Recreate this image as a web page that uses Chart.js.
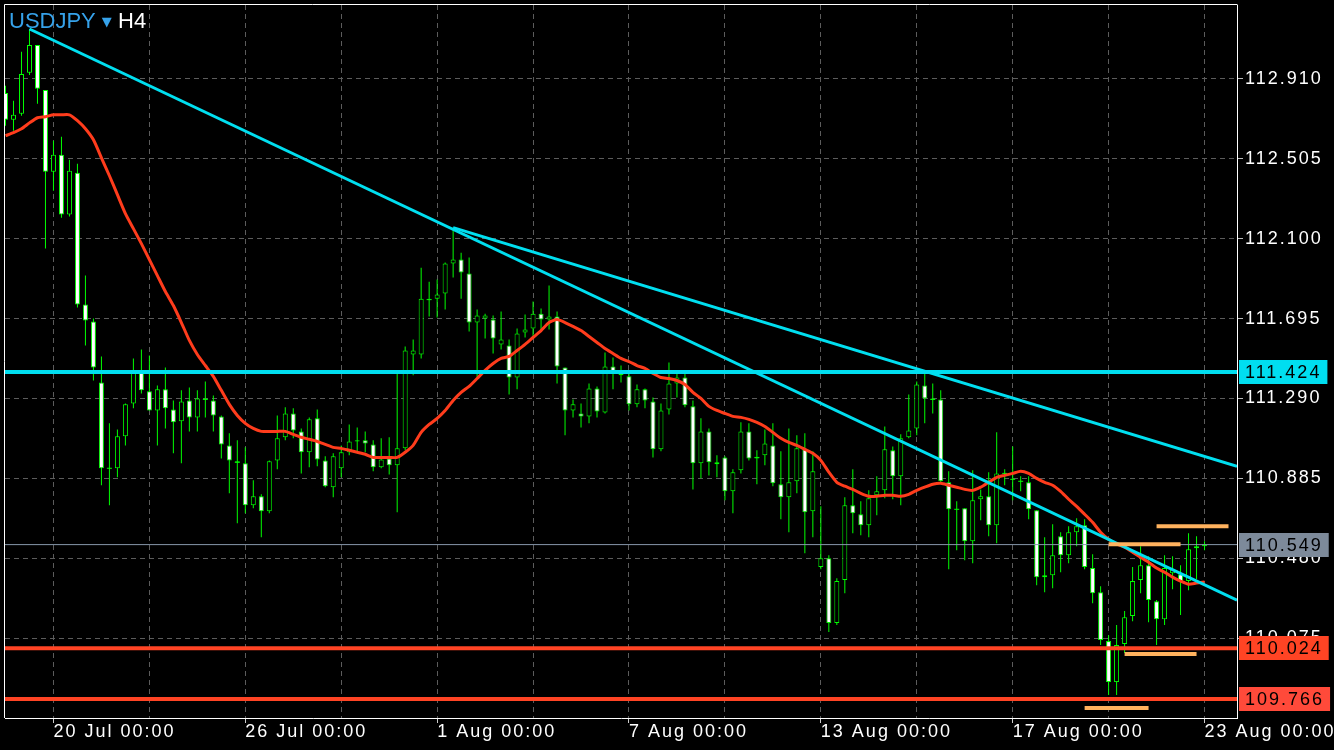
<!DOCTYPE html>
<html>
<head>
<meta charset="utf-8">
<script src="https://cdn.jsdelivr.net/npm/chart.js@4.4.1/dist/chart.umd.min.js"></script>
<style>
html,body{margin:0;padding:0;background:#000;overflow:hidden;}
#wrap{width:1334px;height:750px;position:relative;background:#000;}
canvas{display:block;}
</style>
</head>
<body>
<div id="wrap"><canvas id="c" width="1334" height="750"></canvas></div>
<script>
// ---------- data (USDJPY, H4 candles, index 0 = 19 Jul 00:00) ----------
const symbol = 'USDJPY';
const timeframe = 'H4';
const tickIdx = [6, 30, 54, 78, 102, 126, 150];
const tickLabels = ['20 Jul 00:00', '26 Jul 00:00', '1 Aug 00:00', '7 Aug 00:00', '13 Aug 00:00', '17 Aug 00:00', '23 Aug 00:00'];
const gridIdx = [6, 18, 30, 42, 54, 66, 78, 90, 102, 114, 126, 138, 150];
const yTicks = [112.910, 112.505, 112.100, 111.695, 111.290, 110.885, 110.480, 110.075];

const open = [112.839,112.703,112.733,112.941,113.082,112.854,112.439,112.525,112.222,112.434,
111.766,111.680,111.371,110.936,110.936,111.098,111.265,111.432,111.326,111.229,
111.336,111.234,111.174,111.280,111.194,111.290,111.280,111.199,111.052,110.971,
110.961,110.748,110.794,110.718,110.976,111.093,111.214,111.123,111.017,111.189,
110.976,110.840,110.936,111.017,111.072,111.078,111.057,110.941,110.986,110.951,
111.037,111.513,111.513,111.796,111.796,111.822,111.974,111.994,111.923,111.675,
111.695,111.690,111.564,111.558,111.396,111.624,111.645,111.720,111.690,111.705,
111.447,111.229,111.214,111.199,111.341,111.219,111.452,111.417,111.402,111.260,
111.336,111.275,111.032,111.234,111.366,111.396,111.250,110.961,111.123,110.966,
110.991,110.819,110.926,111.123,110.986,111.002,111.052,110.855,110.789,110.870,
111.032,110.718,110.435,110.480,110.151,110.369,110.748,110.703,110.647,110.799,
110.824,111.027,110.895,111.093,111.138,111.356,111.290,111.285,110.865,110.728,
110.733,110.566,110.779,110.794,110.647,110.910,110.880,110.870,110.865,110.723,
110.384,110.394,110.592,110.495,110.612,110.647,110.430,110.308,110.060,109.852,
110.045,110.187,110.369,110.445,110.262,110.171,110.404,110.399,110.364,110.531,
110.541];
const high = [112.875,112.799,113.047,113.163,113.082,112.854,112.596,112.617,112.500,112.480,
111.913,111.695,111.503,111.164,111.133,111.265,111.493,111.538,111.508,111.356,
111.447,111.280,111.331,111.346,111.331,111.376,111.305,111.204,111.113,111.078,
111.042,110.875,110.804,110.976,111.204,111.245,111.240,111.138,111.194,111.234,
110.997,111.012,111.052,111.158,111.143,111.123,111.078,111.088,111.093,111.432,
111.553,111.589,111.953,111.882,111.893,111.979,112.156,112.029,112.004,111.741,
111.720,111.710,111.731,111.589,111.645,111.715,111.781,111.746,111.862,111.731,
111.447,111.285,111.265,111.366,111.351,111.523,111.498,111.457,111.422,111.361,
111.341,111.295,111.265,111.472,111.422,111.417,111.280,111.189,111.138,111.002,
110.997,110.931,111.169,111.164,111.027,111.133,111.164,111.022,111.138,111.103,
111.113,111.022,110.743,110.495,110.379,110.789,110.931,110.769,110.824,110.895,
111.148,111.047,111.108,111.310,111.376,111.417,111.366,111.331,110.921,110.769,
110.733,110.926,110.829,110.916,111.118,110.931,111.047,110.895,110.895,110.723,
110.586,110.652,110.612,110.642,110.683,110.678,110.500,110.338,110.090,110.141,
110.212,110.435,110.541,110.490,110.268,110.495,110.490,110.445,110.607,110.592,
110.566];
const low = [112.672,112.647,112.723,112.930,112.784,112.050,112.343,112.206,112.212,111.751,
111.558,111.381,110.850,110.748,110.890,111.052,111.240,111.315,111.229,111.052,
111.138,111.012,110.961,111.123,111.123,111.194,111.123,110.986,110.809,110.657,
110.708,110.733,110.586,110.708,110.931,111.078,111.088,110.910,110.941,110.946,
110.840,110.789,110.890,111.002,111.017,111.017,110.921,110.936,110.905,110.713,
111.027,111.407,111.493,111.705,111.700,111.741,111.903,111.796,111.629,111.396,
111.594,111.518,111.538,111.310,111.336,111.599,111.599,111.639,111.639,111.366,
111.103,111.194,111.143,111.164,111.194,111.214,111.336,111.371,111.229,111.245,
111.240,110.991,111.022,111.209,111.295,111.245,110.829,110.885,110.900,110.890,
110.774,110.708,110.910,110.976,110.855,110.951,110.845,110.678,110.612,110.809,
110.505,110.586,110.424,110.106,110.141,110.303,110.607,110.597,110.586,110.698,
110.784,110.779,110.748,111.088,111.103,111.164,111.214,110.865,110.424,110.521,
110.470,110.455,110.673,110.592,110.556,110.850,110.774,110.819,110.678,110.343,
110.308,110.328,110.409,110.455,110.541,110.424,110.252,110.040,109.787,109.787,
109.999,110.161,110.303,110.156,110.040,110.141,110.323,110.192,110.318,110.374,
110.521];
const close = [112.703,112.728,112.935,113.082,112.860,112.439,112.525,112.222,112.444,111.766,
111.685,111.447,110.936,110.936,111.098,111.260,111.432,111.331,111.229,111.336,
111.240,111.169,111.275,111.194,111.290,111.285,111.204,111.057,110.976,110.966,
110.748,110.794,110.718,110.971,111.088,111.214,111.128,111.017,111.184,110.981,
110.845,110.997,111.017,111.072,111.078,111.062,110.941,110.981,110.951,111.037,
111.533,111.533,111.796,111.791,111.817,111.974,111.994,111.928,111.675,111.710,
111.710,111.594,111.589,111.396,111.619,111.639,111.720,111.690,111.705,111.452,
111.229,111.260,111.199,111.341,111.224,111.452,111.422,111.407,111.260,111.336,
111.280,111.032,111.229,111.366,111.396,111.255,110.961,111.123,110.966,110.956,
110.819,110.916,111.123,110.986,110.991,111.062,110.860,110.789,110.865,111.037,
110.713,110.921,110.480,110.151,110.364,110.748,110.708,110.647,110.784,110.819,
111.032,110.895,111.088,111.128,111.361,111.290,111.285,110.870,110.728,110.728,
110.566,110.774,110.794,110.647,110.910,110.910,110.880,110.870,110.728,110.384,
110.394,110.495,110.495,110.612,110.642,110.435,110.303,110.065,109.852,110.040,
110.181,110.364,110.445,110.268,110.171,110.430,110.424,110.364,110.526,110.541,
110.546];
const ma = [112.622,112.637,112.657,112.687,112.713,112.718,112.728,112.728,112.728,112.698,
112.657,112.601,112.510,112.419,112.323,112.227,112.151,112.075,111.994,111.913,
111.832,111.761,111.675,111.584,111.513,111.457,111.402,111.331,111.260,111.204,
111.164,111.138,111.123,111.123,111.123,111.123,111.108,111.093,111.083,111.072,
111.057,111.042,111.037,111.027,111.017,111.007,110.991,110.991,110.991,110.991,
111.017,111.052,111.118,111.158,111.189,111.229,111.280,111.321,111.351,111.391,
111.432,111.467,111.493,111.503,111.533,111.564,111.599,111.634,111.675,111.690,
111.675,111.655,111.634,111.604,111.574,111.543,111.518,111.493,111.477,111.457,
111.442,111.417,111.396,111.391,111.381,111.361,111.321,111.290,111.250,111.229,
111.214,111.199,111.194,111.184,111.169,111.148,111.118,111.088,111.067,111.052,
111.032,111.012,110.976,110.916,110.865,110.845,110.829,110.809,110.794,110.794,
110.799,110.799,110.794,110.804,110.824,110.840,110.855,110.860,110.850,110.840,
110.829,110.824,110.840,110.865,110.890,110.900,110.910,110.921,110.910,110.885,
110.865,110.850,110.819,110.779,110.743,110.703,110.662,110.612,110.576,110.551,
110.536,110.511,110.485,110.460,110.430,110.409,110.384,110.364,110.348,110.354,
110.359];

// drawn objects (candle index, price)
const trendA = [[3, 113.163], [154.0625, 110.268]];
const trendB = [[56, 112.156], [154.0625, 110.946]];
const levelValues = [111.424, 110.549, 110.024, 109.766];
const levelColors = ['#00def0', '#8797aa', '#ff4424', '#ff4424'];
const levelWidths = [4, 1, 4, 4];
const boxColors = ['#00def0', '#7d8a9a', '#ff4424', '#ff4a3a'];
const segStart = [138, 144, 140, 135];
const segEnd = [147, 153, 149, 143];
const segPrice = [110.551, 110.642, 109.994, 109.721];

// ---------- chart ----------
const X_MIN = -0.0625, X_MAX = 154.0625;
const Y_MIN = 109.670, Y_MAX = 113.2846;
const FONT = '"Liberation Sans", Arial, sans-serif';
const SPACING = '2px';

const datasets = [];
datasets.push({
  type: 'bar', label: 'wick', order: 10, clip: 0,
  data: high.map((h, i) => ({x: i, y: [low[i], h]})),
  backgroundColor: '#00ff00', borderWidth: 0, barThickness: 1, inflateAmount: 0, grouped: false
});
datasets.push({
  type: 'bar', label: 'body', order: 9, clip: 0,
  data: open.map((o, i) => ({x: i, y: [Math.min(o, close[i]), Math.max(o, close[i])]})),
  backgroundColor: (c) => (close[c.dataIndex] < open[c.dataIndex] ? '#ffffff' : '#000000'),
  borderColor: '#00ff00', borderWidth: 1, borderSkipped: false, barThickness: 5, inflateAmount: 0, grouped: false
});
datasets.push({
  type: 'line', label: 'doji', order: 8, clip: 0, showLine: false,
  data: close.map((c, i) => ({x: i, y: c})).filter((p, i) => Math.abs(close[i] - open[i]) < 0.006),
  pointStyle: 'line', pointRadius: 2.5, pointBorderWidth: 1, pointBorderColor: '#00ff00', pointBackgroundColor: '#00ff00'
});
datasets.push({
  type: 'line', label: 'ma', order: 5, clip: 0,
  data: ma.map((v, i) => ({x: i, y: v})),
  borderColor: '#ff3c1c', borderWidth: 3, pointRadius: 0, tension: 0.2, borderJoinStyle: 'round'
});
levelValues.forEach((v, k) => {
  datasets.push({
    type: 'line', label: 'level' + k, order: k === 1 ? 6 : 4, clip: 0,
    data: [{x: X_MIN, y: v}, {x: X_MAX, y: v}],
    borderColor: levelColors[k], borderWidth: levelWidths[k], pointRadius: 0
  });
});
[trendA, trendB].forEach((t, k) => {
  datasets.push({
    type: 'line', label: 'trend' + k, order: 3, clip: 0,
    data: t.map(p => ({x: p[0], y: p[1]})),
    borderColor: '#00dff0', borderWidth: 3, pointRadius: 0
  });
});
segPrice.forEach((v, k) => {
  datasets.push({
    type: 'line', label: 'seg' + k, order: 2, clip: 0,
    data: [{x: segStart[k], y: v}, {x: segEnd[k], y: v}],
    borderColor: '#ffb25e', borderWidth: 4, pointRadius: 0, borderCapStyle: 'butt'
  });
});

const overlay = {
  id: 'overlay',
  beforeDraw(chart) {
    const ctx = chart.ctx;
    ctx.save();
    ctx.fillStyle = '#000';
    ctx.fillRect(0, 0, chart.width, chart.height);
    ctx.restore();
    ctx.letterSpacing = SPACING;
  },
  afterDraw(chart) {
    const {ctx, chartArea: a} = chart;
    const y = chart.scales.y;
    ctx.save();
    ctx.strokeStyle = '#ffffff';
    ctx.lineWidth = 1;
    ctx.beginPath();
    ctx.moveTo(a.left - 0.5, a.bottom);
    ctx.lineTo(a.left - 0.5, a.top - 0.5);
    ctx.lineTo(a.right + 0.5, a.top - 0.5);
    ctx.stroke();

    ctx.letterSpacing = SPACING;
    ctx.font = '18px ' + FONT;
    ctx.textBaseline = 'middle';
    ctx.textAlign = 'left';
    levelValues.forEach((v, k) => {
      const py = Math.round(y.getPixelForValue(v));
      const txt = v.toFixed(3);
      const w = ctx.measureText(txt).width;
      ctx.fillStyle = boxColors[k];
      ctx.fillRect(a.right + 2, py - 12, w + 12, 24);
      ctx.fillStyle = '#000';
      ctx.fillText(txt, a.right + 8, py + 1);
    });

    ctx.letterSpacing = '0px';
    ctx.textBaseline = 'alphabetic';
    ctx.font = '22px ' + FONT;
    ctx.fillStyle = '#36a2ea';
    ctx.fillText(symbol, 9, 28);
    const w1 = ctx.measureText(symbol).width;
    ctx.font = '13px "DejaVu Sans", sans-serif';
    ctx.fillText('\u25BC', 9 + w1 + 6, 26);
    ctx.font = '22px ' + FONT;
    ctx.fillStyle = '#ffffff';
    ctx.fillText(timeframe, 118, 28);
    ctx.restore();
  }
};

new Chart(document.getElementById('c'), {
  type: 'bar',
  data: {datasets},
  plugins: [overlay],
  options: {
    responsive: false,
    devicePixelRatio: 1,
    animation: false,
    events: [],
    layout: {padding: {left: 4, top: 4, right: 0, bottom: 0}},
    plugins: {legend: {display: false}, tooltip: {enabled: false}, title: {display: false}},
    scales: {
      x: {
        type: 'linear', position: 'bottom', min: X_MIN, max: X_MAX, offset: false,
        afterBuildTicks: (ax) => { ax.ticks = gridIdx.map(v => ({value: v})); },
        afterFit: (ax) => { ax.height = 32; ax.paddingLeft = 0; ax.paddingRight = 0; },
        ticks: {
          autoSkip: false, maxRotation: 0, minRotation: 0, align: 'start', padding: 0,
          color: '#ffffff', font: {size: 18, family: FONT, lineHeight: 1},
          callback: (v) => { const k = tickIdx.indexOf(v); return k >= 0 ? tickLabels[k] : ''; }
        },
        grid: {
          offset: false, color: '#5c5c5c', lineWidth: 1, drawTicks: true, tickLength: 5,
          tickColor: (c) => (c.tick && tickIdx.includes(c.tick.value) ? '#cccccc' : 'rgba(0,0,0,0)')
        },
        border: {display: true, color: '#ffffff', width: 1, dash: [5, 4]}
      },
      y: {
        type: 'linear', position: 'right', min: Y_MIN, max: Y_MAX, beginAtZero: false,
        afterBuildTicks: (ax) => { ax.ticks = yTicks.map(v => ({value: v})); },
        afterFit: (ax) => { ax.width = 97; ax.paddingTop = 0; ax.paddingBottom = 0; },
        ticks: {
          padding: 2, color: '#ffffff', font: {size: 18, family: FONT},
          callback: (v) => Number(v).toFixed(3)
        },
        grid: {color: '#5c5c5c', lineWidth: 1, drawTicks: true, tickLength: 6, tickColor: '#bbbbbb'},
        border: {display: true, color: '#ffffff', width: 1, dash: [5, 4]}
      }
    }
  }
});
</script>
</body>
</html>
